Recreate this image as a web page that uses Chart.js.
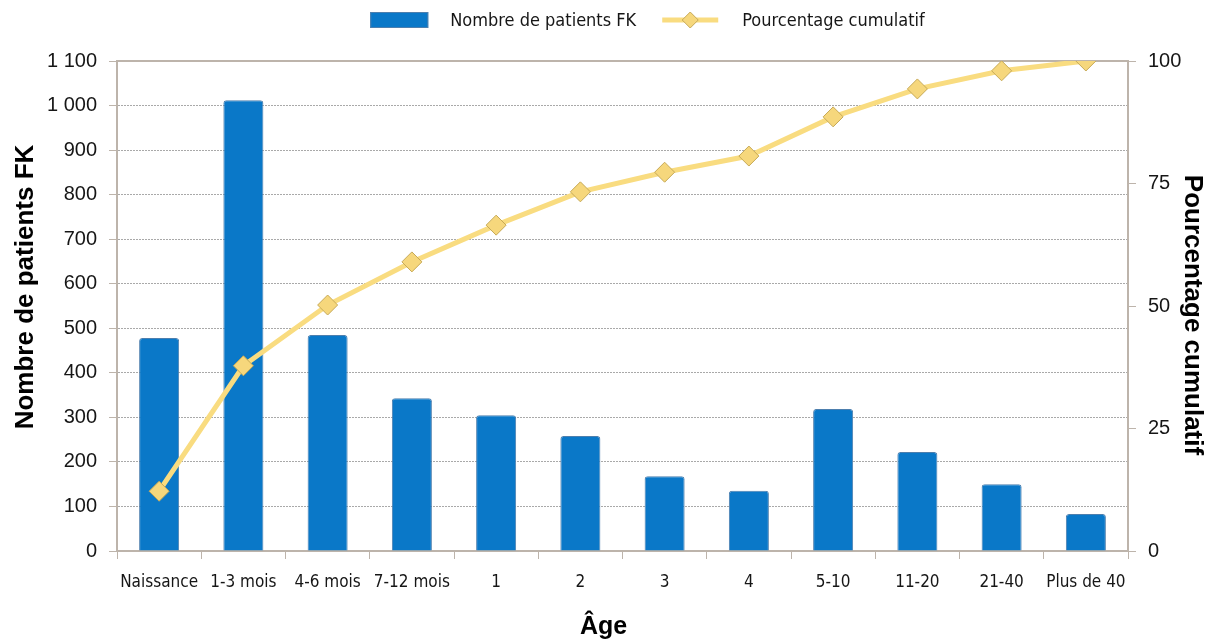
<!DOCTYPE html>
<html lang="fr">
<head>
<meta charset="utf-8">
<title>Nombre de patients FK par âge</title>
<script src="https://cdn.jsdelivr.net/npm/chart.js@4/dist/chart.umd.min.js"></script>
<style>
  html, body { margin: 0; padding: 0; background: #ffffff; }
  #wrap { width: 1212px; height: 643px; }
</style>
</head>
<body>
<div id="wrap"><canvas id="chart" width="1212" height="643"></canvas></div>
<script>
// Age groups (x axis)
const categories = ['Naissance', '1-3 mois', '4-6 mois', '7-12 mois', '1', '2', '3', '4', '5-10', '11-20', '21-40', 'Plus de 40'];
// Number of CF patients per age group (left axis)
const patients = [478, 1012, 485, 343, 305, 258, 168, 135, 319, 222, 150, 83];
// Cumulative percentage (right axis)
const cumulativePct = [12.2, 37.8, 50.2, 59.0, 66.5, 73.3, 77.3, 80.6, 88.6, 94.3, 98.0, 100];
// Axis ranges and tick steps
const countTicks = { min: 0, max: 1100, step: 100 };
const pctTicks = { min: 0, max: 100, step: 25 };

const seriesNames = ['Nombre de patients FK', 'Pourcentage cumulatif'];
const axisTitles = { left: 'Nombre de patients FK', right: 'Pourcentage cumulatif', bottom: 'Âge' };

const BAR_BLUE = '#0a78c8';
const BAR_EDGE = '#4d7fae';
const LINE_YELLOW = '#f9dc80';
const MARKER_FILL = '#f6d77c';
const MARKER_EDGE = '#c6a957';
const FRAME = '#bdb4ab';
const GRID = '#a9a9a9';
const TEXT = '#161616';

const NUM_FONT = { family: '"Liberation Sans", Arial, sans-serif', size: 20 };
const CAT_FONT = { family: '"DejaVu Sans Condensed", "DejaVu Sans", sans-serif', size: 17 };
const TITLE_FONT = 'bold 26px "Liberation Sans", Arial, sans-serif';
const LEGEND_FONT = '18px "DejaVu Sans Condensed", "DejaVu Sans", sans-serif';

function frNumber(v) {
  return String(v).replace(/\B(?=(\d{3})+(?!\d))/g, ' ');
}

function fixWidth(w) { return function (scale) { scale.width = w; }; }
function fixHeight(h) { return function (scale) { scale.height = h; }; }

// Legend and axis titles, drawn on top of the chart
const decorations = {
  id: 'decorations',
  afterDraw(chart) {
    const ctx = chart.ctx;
    const area = chart.chartArea;
    ctx.save();

    // legend row
    ctx.font = LEGEND_FONT;
    ctx.textBaseline = 'middle';
    ctx.fillStyle = TEXT;
    const w1 = ctx.measureText(seriesNames[0]).width;
    const w2 = ctx.measureText(seriesNames[1]).width;
    const boxW = 58, boxH = 16, lineW = 56;
    const gapA = 22, gapB = 26, gapC = 24;
    const total = boxW + gapA + w1 + gapB + lineW + gapC + w2;
    const cy = 20;
    let x = (area.left + area.right) / 2 + 25 - total / 2;
    ctx.fillStyle = BAR_BLUE;
    ctx.fillRect(x, cy - boxH / 2, boxW, boxH);
    ctx.strokeStyle = BAR_EDGE;
    ctx.lineWidth = 1;
    ctx.strokeRect(x + 0.5, cy - boxH / 2 + 0.5, boxW - 1, boxH - 1);
    x += boxW + gapA;
    ctx.fillStyle = TEXT;
    ctx.textAlign = 'left';
    ctx.fillText(seriesNames[0], x, cy + 1);
    x += w1 + gapB;
    ctx.strokeStyle = LINE_YELLOW;
    ctx.lineWidth = 5;
    ctx.beginPath();
    ctx.moveTo(x, cy);
    ctx.lineTo(x + lineW, cy);
    ctx.stroke();
    const mx = x + lineW / 2, r = 8;
    ctx.beginPath();
    ctx.moveTo(mx, cy - r);
    ctx.lineTo(mx + r, cy);
    ctx.lineTo(mx, cy + r);
    ctx.lineTo(mx - r, cy);
    ctx.closePath();
    ctx.fillStyle = MARKER_FILL;
    ctx.fill();
    ctx.strokeStyle = MARKER_EDGE;
    ctx.lineWidth = 1;
    ctx.stroke();
    x += lineW + gapC;
    ctx.fillStyle = TEXT;
    ctx.fillText(seriesNames[1], x, cy + 1);

    // axis titles
    ctx.font = TITLE_FONT;
    ctx.fillStyle = '#000000';
    ctx.textAlign = 'center';
    ctx.textBaseline = 'middle';

    ctx.save();
    ctx.translate(26, (area.top + area.bottom) / 2 - 19);
    ctx.rotate(-Math.PI / 2);
    ctx.fillText(axisTitles.left, 0, 0);
    ctx.restore();

    ctx.save();
    ctx.translate(1192, (area.top + area.bottom) / 2 + 9);
    ctx.rotate(Math.PI / 2);
    ctx.fillText(axisTitles.right, 0, 0);
    ctx.restore();

    ctx.font = 'bold 25px "Liberation Sans", Arial, sans-serif';
    ctx.fillText(axisTitles.bottom, (area.left + area.right) / 2 - 19, 627);

    ctx.restore();
  }
};

new Chart(document.getElementById('chart'), {
  data: {
    labels: categories,
    datasets: [
      {
        type: 'bar',
        label: seriesNames[0],
        data: patients,
        yAxisID: 'y',
        backgroundColor: BAR_BLUE,
        borderColor: BAR_EDGE,
        borderWidth: 1,
        borderRadius: { topLeft: 3, topRight: 3 },
        borderSkipped: 'bottom',
        barPercentage: 0.475,
        categoryPercentage: 1,
        order: 2
      },
      {
        type: 'line',
        label: seriesNames[1],
        data: cumulativePct,
        yAxisID: 'y2',
        borderColor: LINE_YELLOW,
        borderWidth: 5,
        tension: 0,
        pointStyle: 'rectRot',
        pointRadius: 10,
        pointHoverRadius: 10,
        pointBackgroundColor: MARKER_FILL,
        pointBorderColor: MARKER_EDGE,
        pointBorderWidth: 1,
        order: 1
      }
    ]
  },
  options: {
    responsive: false,
    animation: false,
    events: [],
    layout: { padding: { top: 61, left: 0, right: 0, bottom: 0 } },
    plugins: {
      legend: { display: false },
      tooltip: { enabled: false },
      title: { display: false }
    },
    scales: {
      x: {
        type: 'category',
        position: 'bottom',
        afterFit: fixHeight(92),
        grid: {
          display: true,
          offset: true,
          drawOnChartArea: false,
          drawTicks: true,
          tickLength: 8,
          tickColor: FRAME,
          tickWidth: 1
        },
        border: { display: true, color: FRAME, width: 2 },
        ticks: {
          color: TEXT,
          font: CAT_FONT,
          padding: 13,
          autoSkip: false,
          maxRotation: 0,
          minRotation: 0
        }
      },
      xTop: {
        type: 'category',
        position: 'top',
        afterFit: fixHeight(0),
        grid: { display: false },
        ticks: { display: false },
        border: { display: true, color: FRAME, width: 2 }
      },
      y: {
        type: 'linear',
        position: 'left',
        min: countTicks.min,
        max: countTicks.max,
        afterFit: fixWidth(117),
        grid: {
          display: true,
          drawOnChartArea: true,
          drawTicks: true,
          tickLength: 8,
          lineWidth: 1,
          tickColor: FRAME,
          tickWidth: 1,
          color: (ctx) => (ctx.tick && (ctx.tick.value === countTicks.min || ctx.tick.value === countTicks.max)) ? 'rgba(0,0,0,0)' : GRID
        },
        border: { display: true, color: FRAME, width: 2, dash: [2, 1] },
        ticks: {
          stepSize: countTicks.step,
          color: TEXT,
          font: NUM_FONT,
          padding: 12,
          callback: (v) => frNumber(v)
        }
      },
      y2: {
        type: 'linear',
        position: 'right',
        min: pctTicks.min,
        max: pctTicks.max,
        afterFit: fixWidth(84),
        grid: {
          display: true,
          drawOnChartArea: false,
          drawTicks: true,
          tickLength: 8,
          tickColor: FRAME,
          tickWidth: 1
        },
        border: { display: true, color: FRAME, width: 2 },
        ticks: {
          stepSize: pctTicks.step,
          color: TEXT,
          font: NUM_FONT,
          padding: 12
        }
      }
    }
  },
  plugins: [decorations]
});
</script>
</body>
</html>
